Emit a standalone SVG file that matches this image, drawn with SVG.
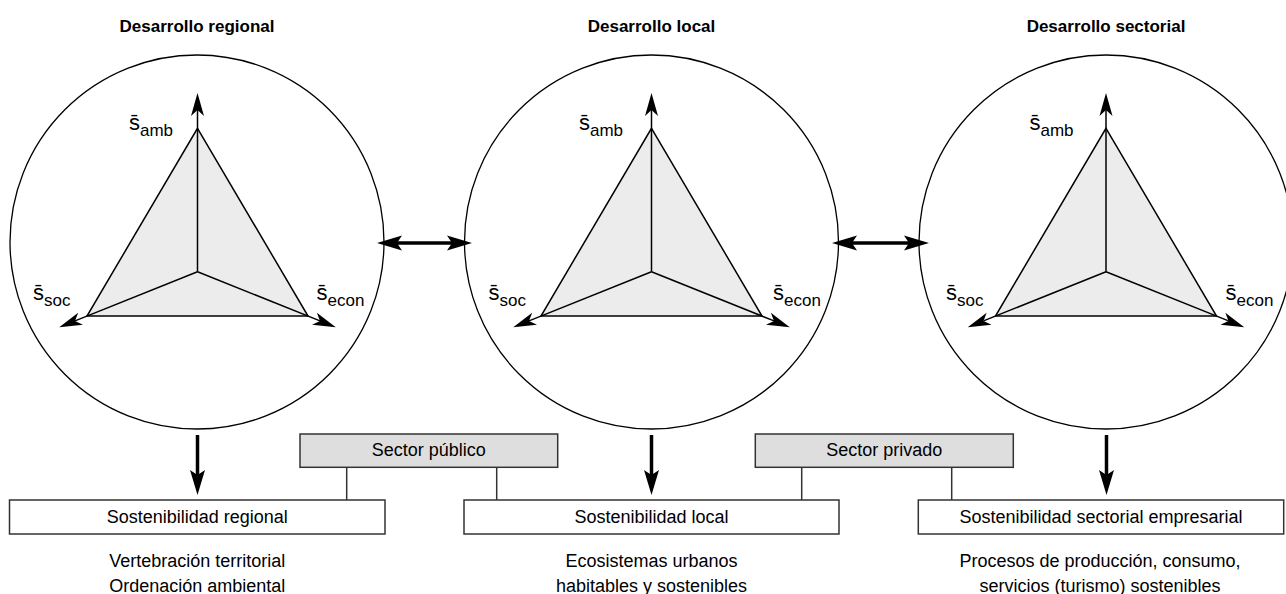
<svg xmlns="http://www.w3.org/2000/svg" width="1286" height="594" viewBox="0 0 1286 594">
<style>
.circ{fill:none;stroke:#000;stroke-width:1.3}
.tri{fill:#ececec;stroke:#000;stroke-width:1.5}
.axis{stroke:#000;stroke-width:1.5;fill:none}
.thick{stroke:#000;stroke-width:3.5;fill:none}
.box{fill:#fff;stroke:#333;stroke-width:1.5}
.sbox{fill:#dedede;stroke:#333;stroke-width:1.5}
.conn{stroke:#333;stroke-width:1.5;fill:none}
text{font-family:"Liberation Sans",Arial,"DejaVu Sans",sans-serif;fill:#000}
.title{font-size:17px;font-weight:bold;text-anchor:middle}
.lbl{font-size:18px;text-anchor:middle}
.s{font-size:22px}
.sub{font-size:17px}
</style>
<defs>
<marker id="ah" markerUnits="userSpaceOnUse" orient="auto" refX="-17" refY="0" markerWidth="1" markerHeight="1" overflow="visible">
<path d="M0,0 L-23,-6.5 L-17,0 L-23,6.5 Z" fill="#000"/>
</marker>
<marker id="ahb" markerUnits="userSpaceOnUse" orient="auto-start-reverse" refX="-19" refY="0" markerWidth="1" markerHeight="1" overflow="visible">
<path d="M0,0 L-25,-7.5 L-20,0 L-25,7.5 Z" fill="#000"/>
</marker>
</defs>
<rect width="1286" height="594" fill="#fff"/>

<g id="desarrollo-regional">
<text class="title" x="197" y="32">Desarrollo regional</text>
<circle class="circ" cx="197" cy="242" r="187"/>
<polygon class="tri" points="197.5,128.3 308,316 87,316"/>
<line class="axis" x1="197.5" y1="271.7" x2="197.5" y2="110" marker-end="url(#ah)"/>
<line class="axis" x1="197.5" y1="271.7" x2="75" y2="320.9" marker-end="url(#ah)"/>
<line class="axis" x1="197.5" y1="271.7" x2="320" y2="320.9" marker-end="url(#ah)"/>
<text class="s" x="129" y="130">s&#x304;<tspan class="sub" dy="6">amb</tspan></text>
<text class="s" x="33" y="300">s&#x304;<tspan class="sub" dy="6">soc</tspan></text>
<text class="s" x="316.5" y="300">s&#x304;<tspan class="sub" dy="6">econ</tspan></text>
</g>

<g id="desarrollo-local">
<text class="title" x="651.5" y="32">Desarrollo local</text>
<circle class="circ" cx="651.5" cy="242" r="187"/>
<polygon class="tri" points="651.5,128.3 762,316 541,316"/>
<line class="axis" x1="651.5" y1="271.7" x2="651.5" y2="110" marker-end="url(#ah)"/>
<line class="axis" x1="651.5" y1="271.7" x2="529" y2="320.9" marker-end="url(#ah)"/>
<line class="axis" x1="651.5" y1="271.7" x2="774" y2="320.9" marker-end="url(#ah)"/>
<text class="s" x="579" y="130">s&#x304;<tspan class="sub" dy="6">amb</tspan></text>
<text class="s" x="488.5" y="300">s&#x304;<tspan class="sub" dy="6">soc</tspan></text>
<text class="s" x="773" y="300">s&#x304;<tspan class="sub" dy="6">econ</tspan></text>
</g>

<g id="desarrollo-sectorial">
<text class="title" x="1106" y="32">Desarrollo sectorial</text>
<circle class="circ" cx="1106" cy="242" r="187"/>
<polygon class="tri" points="1106,128.3 1216.5,316 995.5,316"/>
<line class="axis" x1="1106" y1="271.7" x2="1106" y2="110" marker-end="url(#ah)"/>
<line class="axis" x1="1106" y1="271.7" x2="983.5" y2="320.9" marker-end="url(#ah)"/>
<line class="axis" x1="1106" y1="271.7" x2="1228.5" y2="320.9" marker-end="url(#ah)"/>
<text class="s" x="1029.5" y="130">s&#x304;<tspan class="sub" dy="6">amb</tspan></text>
<text class="s" x="946" y="300">s&#x304;<tspan class="sub" dy="6">soc</tspan></text>
<text class="s" x="1225.5" y="300">s&#x304;<tspan class="sub" dy="6">econ</tspan></text>
</g>

<g id="connectors">
<line class="thick" x1="396" y1="243" x2="453" y2="243" marker-start="url(#ahb)" marker-end="url(#ahb)"/>
<line class="thick" x1="851" y1="243" x2="910" y2="243" marker-start="url(#ahb)" marker-end="url(#ahb)"/>
<line class="thick" x1="197.5" y1="435" x2="197.5" y2="476" marker-end="url(#ahb)"/>
<line class="thick" x1="651.5" y1="435" x2="651.5" y2="476" marker-end="url(#ahb)"/>
<line class="thick" x1="1106.5" y1="435" x2="1106.5" y2="476" marker-end="url(#ahb)"/>
<line class="conn" x1="346.7" y1="467.3" x2="346.7" y2="500"/>
<line class="conn" x1="496.7" y1="467.3" x2="496.7" y2="500"/>
<line class="conn" x1="801.7" y1="467.3" x2="801.7" y2="500"/>
<line class="conn" x1="951.7" y1="467.3" x2="951.7" y2="500"/>
</g>

<g id="sector-publico">
<rect class="sbox" x="300" y="434" width="257.7" height="33.3"/>
<text class="lbl" x="428.8" y="456">Sector público</text>
</g>
<g id="sector-privado">
<rect class="sbox" x="755.3" y="434" width="258" height="33.3"/>
<text class="lbl" x="884.3" y="456">Sector privado</text>
</g>

<g id="sostenibilidad-regional">
<rect class="box" x="9.5" y="500" width="375.5" height="34"/>
<text class="lbl" x="197.25" y="523">Sostenibilidad regional</text>
<text class="lbl" x="197.25" y="567">Vertebración territorial</text>
<text class="lbl" x="197.25" y="592">Ordenación ambiental</text>
</g>
<g id="sostenibilidad-local">
<rect class="box" x="464" y="500" width="375" height="34"/>
<text class="lbl" x="651.5" y="523">Sostenibilidad local</text>
<text class="lbl" x="651.5" y="567">Ecosistemas urbanos</text>
<text class="lbl" x="651.5" y="592">habitables y sostenibles</text>
</g>
<g id="sostenibilidad-sectorial">
<rect class="box" x="918.3" y="500" width="365.4" height="34"/>
<text class="lbl" x="1101" y="523">Sostenibilidad sectorial empresarial</text>
<text class="lbl" x="1100" y="567">Procesos de producción, consumo,</text>
<text class="lbl" x="1100" y="592">servicios (turismo) sostenibles</text>
</g>
</svg>
